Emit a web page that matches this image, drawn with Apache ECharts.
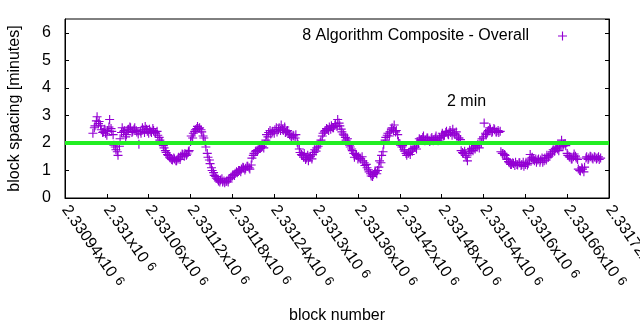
<!DOCTYPE html>
<html>
<head>
<meta charset="utf-8">
<script src="https://cdn.jsdelivr.net/npm/echarts@6/dist/echarts.min.js"></script>
<style>
  html, body { margin: 0; padding: 0; background: #fff; }
  #chart { width: 640px; height: 330px; }
</style>
</head>
<body>
<div id="chart"></div>
<script>
// Block spacing (moving average, minutes); two interleaved block samples
const firstBlock = 2330980;
const blockStep = 3;
const secondOffset = 2;
const spacingMinutes = [
  2.35, 2.62, 2.95, 2.78, 2.48, 2.40, 2.35, 2.45, 2.85, 2.42,
  1.92, 1.75, 1.55, 2.15, 2.55, 2.45, 2.30, 2.50, 2.55, 2.42,
  2.55, 2.40, 1.95, 2.35, 2.48, 2.60, 2.42, 2.50, 2.38, 2.45,
  2.35, 2.28, 2.10, 2.02, 1.82, 1.65, 1.55, 1.45, 1.38, 1.42,
  1.35, 1.48, 1.52, 1.58, 1.62, 1.60, 1.72, 2.25, 2.35, 2.48,
  2.60, 2.55, 2.40, 2.18, 1.85, 1.48, 1.25, 1.00, 0.82, 0.72,
  0.62, 0.65, 0.58, 0.55, 0.62, 0.68, 0.75, 0.85, 0.90, 0.92,
  1.00, 1.05, 1.10, 1.08, 1.15, 1.05, 1.45, 1.62, 1.72, 1.75,
  1.80, 1.88, 1.95, 2.30, 2.38, 2.32, 2.42, 2.48, 2.40, 2.55,
  2.65, 2.45, 2.38, 2.45, 2.30, 2.20, 2.25, 2.30, 1.95, 1.65,
  1.55, 1.62, 1.45, 1.35, 1.52, 1.58, 1.75, 1.82, 1.95, 2.10,
  2.35, 2.45, 2.50, 2.58, 2.62, 2.55, 2.70, 2.85, 2.62, 2.40,
  2.28, 2.10, 2.02, 1.85, 1.72, 1.48, 1.55, 1.50, 1.42, 1.35,
  1.18, 1.10, 0.95, 0.80, 0.85, 0.95, 1.00, 1.35, 1.55, 1.95,
  2.20, 2.35, 2.40, 2.55, 2.65, 2.45, 2.05, 1.92, 1.90, 1.70,
  1.55, 1.65, 1.75, 1.80, 1.85, 2.05, 2.15, 2.12, 2.25, 2.10,
  2.18, 2.05, 2.20, 2.12, 2.25, 2.08, 2.15, 2.35, 2.28, 2.42,
  2.30, 2.38, 2.50, 2.32, 2.25, 2.18, 1.72, 1.62, 1.55, 1.35,
  1.75, 1.80, 1.85, 1.90, 1.95, 2.05, 2.15, 2.72, 2.30, 2.45,
  2.50, 2.42, 2.48, 2.40, 2.38, 1.68, 1.62, 1.55, 1.40, 1.28,
  1.22, 1.25, 1.30, 1.20, 1.28, 1.22, 1.15, 1.30, 1.25, 1.58,
  1.48, 1.35, 1.30, 1.42, 1.38, 1.30, 1.45, 1.55, 1.52, 1.60,
  1.75, 1.80, 1.78, 1.85, 2.10, 1.95, 1.90, 1.55, 1.48, 1.42,
  1.60, 1.45, 1.05, 0.98, 1.05, 1.12, 1.50, 1.45, 1.50, 1.42,
  1.48, 1.45, 1.40
];
const spacingMinutesB = [
  2.55, 2.80, 2.70, 2.62, 2.38, 2.50, 2.28, 2.58, 2.52, 2.30,
  1.85, 1.68, 1.88, 2.38, 2.40, 2.22, 2.48, 2.58, 2.38, 2.50,
  2.45, 2.32, 2.42, 2.55, 2.38, 2.50, 2.35, 2.42, 2.52, 2.38,
  2.42, 2.20, 2.05, 1.90, 1.72, 1.58, 1.48, 1.40, 1.45, 1.35,
  1.42, 1.40, 1.60, 1.52, 1.55, 1.68, 2.05, 2.18, 2.42, 2.52,
  2.52, 2.48, 2.25, 2.05, 1.62, 1.38, 1.10, 0.92, 0.78, 0.68,
  0.58, 0.70, 0.62, 0.60, 0.58, 0.72, 0.80, 0.82, 0.95, 1.00,
  0.95, 1.12, 1.02, 1.15, 1.10, 1.20, 1.55, 1.68, 1.70, 1.80,
  1.85, 1.82, 2.10, 2.22, 2.45, 2.40, 2.35, 2.55, 2.48, 2.45,
  2.50, 2.58, 2.42, 2.35, 2.25, 2.28, 2.18, 2.02, 1.78, 1.58,
  1.48, 1.40, 1.55, 1.48, 1.42, 1.65, 1.70, 1.88, 2.02, 2.25,
  2.40, 2.52, 2.45, 2.50, 2.55, 2.65, 2.60, 2.72, 2.50, 2.32,
  2.20, 2.15, 1.92, 1.78, 1.62, 1.58, 1.42, 1.45, 1.50, 1.28,
  1.22, 1.02, 0.88, 0.78, 0.92, 0.88, 1.12, 1.28, 1.68, 2.10,
  2.28, 2.25, 2.50, 2.45, 2.40, 2.30, 1.98, 1.85, 1.75, 1.62,
  1.62, 1.58, 1.70, 1.85, 1.78, 1.98, 2.10, 2.20, 2.08, 2.18,
  2.10, 2.15, 2.08, 2.18, 2.10, 2.20, 2.28, 2.25, 2.38, 2.32,
  2.45, 2.28, 2.35, 2.40, 2.18, 2.12, 1.65, 1.70, 1.48, 1.62,
  1.68, 1.72, 1.78, 1.85, 1.82, 2.00, 2.22, 2.35, 2.40, 2.55,
  2.38, 2.52, 2.40, 2.45, 2.42, 1.62, 1.58, 1.42, 1.32, 1.22,
  1.28, 1.18, 1.22, 1.28, 1.18, 1.30, 1.22, 1.20, 1.38, 1.45,
  1.40, 1.42, 1.38, 1.30, 1.45, 1.35, 1.38, 1.48, 1.60, 1.68,
  1.70, 1.85, 1.72, 1.92, 1.88, 1.98, 1.62, 1.50, 1.42, 1.50,
  1.52, 1.40, 1.00, 1.10, 0.95, 1.45, 1.40, 1.52, 1.45, 1.50,
  1.42, 1.50, 1.45
];

const targetMinutes = 2;
const xMin = 2330940, xMax = 2331720, xInterval = 60;
const yMin = 0, yMax = 6.5, yInterval = 1;

const seriesName = '8 Algorithm Composite - Overall';
const targetLabel = '2 min';
const xTitle = 'block number';
const yTitle = 'block spacing [minutes]';

const FONT = "'Liberation Sans', Arial, sans-serif";
const PURPLE = '#9400d3';
const GREEN = '#22ee22';
// thin "+" marker
const PLUS = 'path://M0,3.5H8V4.5H0Z M3.5,0H4.5V8H3.5Z';

const points = [];
spacingMinutes.forEach((v, i) => {
  points.push([firstBlock + i * blockStep, v]);
  points.push([firstBlock + i * blockStep + secondOffset, spacingMinutesB[i]]);
});

// "2.33094x10^6" style tick labels
function sciLabel(v) {
  const mant = parseFloat((v / 1e6).toFixed(5)).toString();
  return '{m|' + mant + 'x10}{e|6}';
}

const chart = echarts.init(document.getElementById('chart'), null, { renderer: 'canvas' });
chart.setOption({
  animation: false,
  backgroundColor: '#fff',
  textStyle: { fontFamily: FONT },
  grid: {
    left: 65, right: 31, top: 19, bottom: 132,
    show: true, borderColor: '#000', borderWidth: 1,
    containLabel: false, outerBoundsMode: 'none'
  },
  legend: {
    data: [seriesName],
    right: 68, top: 23,
    align: 'right',
    itemWidth: 9, itemHeight: 9,
    textStyle: { fontSize: 16, color: '#000', fontFamily: FONT, padding: [0, 24, 0, 0] }
  },
  xAxis: {
    type: 'value',
    min: xMin, max: xMax, interval: xInterval,
    name: xTitle, nameLocation: 'middle', nameGap: 110,
    nameTextStyle: { fontSize: 16, color: '#000', fontFamily: FONT },
    axisLine: { show: true, lineStyle: { color: '#000', width: 1 } },
    axisTick: { show: true, inside: true, length: 4, lineStyle: { color: '#000' } },
    splitLine: { show: false },
    axisLabel: {
      rotate: -55, margin: 9, hideOverlap: false,
      color: '#000', fontFamily: FONT,
      formatter: sciLabel,
      rich: {
        m: { fontSize: 16, fontFamily: FONT, color: '#000' },
        e: { fontSize: 13, fontFamily: FONT, color: '#000', padding: [0, 0, 4, 5] }
      }
    }
  },
  yAxis: [{
    type: 'value',
    min: yMin, max: yMax, interval: yInterval,
    name: yTitle, nameLocation: 'middle', nameGap: 42, nameRotate: 90,
    nameTextStyle: { fontSize: 16, color: '#000', fontFamily: FONT },
    axisLine: { show: true, lineStyle: { color: '#000', width: 1 } },
    axisTick: { show: true, inside: true, length: 4, lineStyle: { color: '#000' } },
    splitLine: { show: false },
    axisLabel: { fontSize: 16, color: '#000', margin: 14, fontFamily: FONT, showMaxLabel: false }
  }, {
    type: 'value', position: 'right',
    min: yMin, max: yMax, interval: yInterval,
    axisLine: { show: true, lineStyle: { color: '#000', width: 1 } },
    axisTick: { show: true, inside: true, length: 4, lineStyle: { color: '#000' } },
    splitLine: { show: false },
    axisLabel: { show: false }
  }],
  graphic: [{
    type: 'text', left: 447, top: 94,
    style: { text: targetLabel, fill: '#000', font: '16px ' + FONT }
  }],
  series: [{
    name: seriesName,
    type: 'scatter',
    data: points,
    symbol: PLUS,
    symbolSize: 9,
    itemStyle: { color: PURPLE, opacity: 1 },
    z: 2
  }, {
    name: targetLabel,
    type: 'line',
    data: [[xMin, targetMinutes], [xMax, targetMinutes]],
    symbol: 'none',
    lineStyle: { color: GREEN, width: 4 },
    silent: true,
    z: 3
  }]
});
</script>
</body>
</html>
